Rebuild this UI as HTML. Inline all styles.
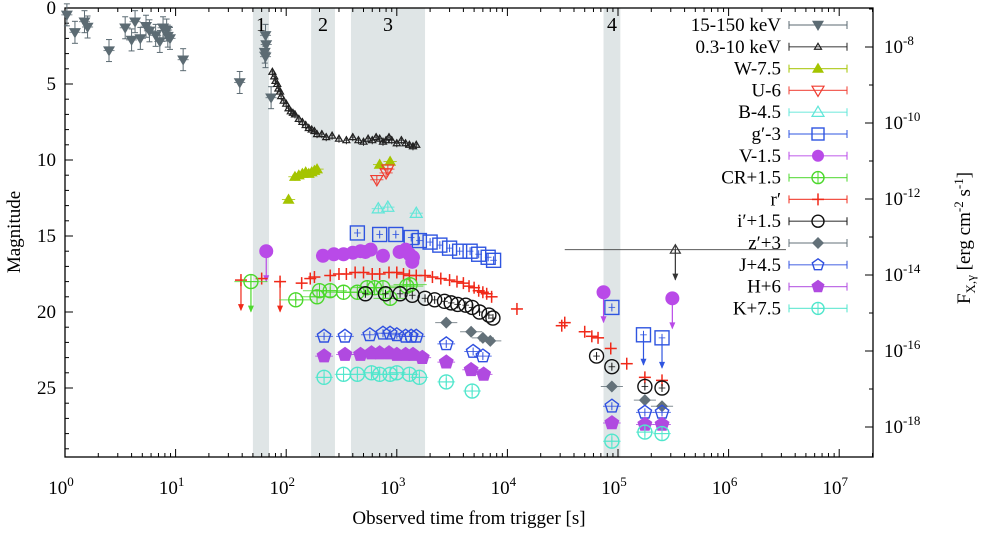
<!DOCTYPE html>
<html><head><meta charset="utf-8"><style>
html,body{margin:0;padding:0;background:#fff;}
svg{display:block;font-family:"Liberation Serif",serif;}
</style></head><body>
<svg id="chart" width="981" height="534" viewBox="0 0 981 534" xmlns="http://www.w3.org/2000/svg"></svg>
<script>
// ---------- data ----------
const bandRanges = [[50,70],[168,276],[385,1800],[74000,105000]];
const bandLabels = ["1","2","3","4"];
const xTicks = [0,1,2,3,4,5,6,7];
const yTicks = [0,5,10,15,20,25];
const fluxTicks = [-8,-10,-12,-14,-16,-18];

const batT = [1.04,1.23,1.5,1.6,2.5,3.5,4,4.3,4.8,5.4,5.8,6.6,7.2,7.7,8.3,8.5,8.9,11.7,38,65,66,64,65,73];
const batM = [0.45,1.6,0.9,1.25,2.8,1.3,2.1,0.9,2.0,1.2,1.5,1.8,2.2,1.3,1.45,1.85,2.0,3.4,4.9,1.8,2.4,2.9,3.2,5.9];
const xrtT = [75,78,80,83,85,88,90,95,100,105,110,115,120,130,140,150,160,170,180,190,210,230,260,300,350,400,450,500,550,600,650,700,750,800,850,900,1000,1100,1200,1300,1400,1500];
const xrtM = [4.2,4.5,4.8,5.0,5.3,5.5,5.8,6.1,6.3,6.6,6.8,6.9,7.0,7.3,7.5,7.7,7.9,8.0,8.1,8.3,8.3,8.5,8.4,8.6,8.7,8.5,8.7,8.8,8.6,8.7,8.5,8.6,8.8,8.7,8.5,8.7,8.9,8.7,8.9,9.0,9.1,9.0];
const wT = [105,120,130,140,150,160,170,180,190,700,870];
const wM = [12.6,11.1,11.0,10.9,10.8,10.9,10.8,10.7,10.6,10.3,10.1];
const uT = [660,800,830];
const uM = [11.3,10.85,10.6];
const bT = [680,830,1500];
const bM = [13.2,13.1,13.5];
const gT = [440,700,980,1350,1600,2000,2450,3000,3700,4600,5500,6700,7500,88000,170000,250000];
const gM = [14.8,14.9,14.9,15.1,15.3,15.4,15.6,15.8,16.0,16.0,16.2,16.4,16.6,19.7,21.5,21.7];
const gUL = [0,0,0,0,0,0,0,0,0,0,0,0,0,0,1,1];
const vT = [66,215,270,330,400,470,520,580,750,1060,1200,1300,1400,1380,74000,310000];
const vM = [16.0,16.3,16.2,16.2,16.1,16.0,16.05,15.9,16.3,16.05,15.9,16.2,16.4,16.7,18.7,19.1];
const vUL = [1,0,0,0,0,0,0,0,0,0,0,0,0,0,1,1];
const rT = [39,60,88,138,165,180,250,300,350,420,500,600,700,850,1000,1150,1300,1500,1800,2100,2500,3000,3500,4000,4500,5000,5500,6000,6500,7200,12200,31000,33000,50000,58000,66000,86000,120000,175000,250000];
const rM = [17.9,17.8,18.0,18.1,17.8,17.7,17.6,17.5,17.5,17.4,17.4,17.5,17.5,17.4,17.4,17.5,17.6,17.6,17.6,17.7,17.8,17.9,18.0,18.1,18.3,18.4,18.6,18.7,18.8,19.0,19.8,20.9,20.7,21.3,21.6,21.7,22.4,23.4,24.3,24.5];
const rUL = [1,0,1,0,0,0,0,0,0,0,0,0,0,0,0,0,0,0,0,0,0,0,0,0,0,0,0,0,0,0,0,0,0,0,0,0,0,0,0,0];
const crT = [48,122,190,200,250,330,440,540,630,750,870,1230,1320];
const crM = [18.0,19.2,19.0,18.6,18.6,18.7,18.7,18.4,18.4,18.4,19.1,18.3,18.2];
const crUL = [1,0,0,0,0,0,0,0,0,0,0,0,0];
const iT = [520,790,1070,1380,1800,2200,2700,3100,3550,4200,4800,5600,6800,7400,64000,88000,175000,250000];
const iM = [18.8,18.8,18.8,18.9,19.1,19.2,19.3,19.4,19.5,19.55,19.7,20.0,20.2,20.4,22.9,23.6,24.9,25.0];
const zT = [2800,4700,6000,7000,88000,175000,250000];
const zM = [20.7,21.3,21.7,21.9,24.9,25.8,26.2];
const jT = [220,340,570,750,870,1000,1200,1350,1500,2800,4900,6000,88000,175000,250000];
const jM = [21.6,21.6,21.5,21.4,21.4,21.5,21.6,21.6,21.6,22.1,22.6,22.9,26.2,26.6,26.6];
const hT = [220,340,470,590,700,850,1000,1200,1400,1700,2800,4700,6100,88000,175000,250000];
const hM = [22.9,22.8,22.8,22.7,22.7,22.7,22.8,22.8,22.8,23.0,23.3,23.8,24.1,27.3,27.4,27.4];
const kT = [220,330,440,590,700,870,1000,1300,1600,2800,4800,88000,175000,250000];
const kM = [24.3,24.1,24.1,24.0,24.1,24.1,24.0,24.1,24.3,24.6,25.2,28.5,27.9,28.0];
const xrtUlT = [330000];
const xrtUlM = [15.9];

// ---------- axes ----------
const X0=65, X1=873, Y0=8, Y1=457, DEC=110.6, MAG=15.2;
const sx = t => X0 + Math.log10(t)*DEC;
const sy = m => Y0 + m*MAG;
const fy = lf => 47 + (-8 - lf)*38;
const NS="http://www.w3.org/2000/svg";
const svg=document.getElementById('chart');
function mk(tag,attrs,parent){const e=document.createElementNS(NS,tag);for(const k in attrs)e.setAttribute(k,attrs[k]);(parent||svg).appendChild(e);return e;}

bandRanges.forEach((b,i)=>{
  const r=mk('rect',{x:sx(b[0]),y:Y0,width:sx(b[1])-sx(b[0]),height:Y1-Y0,fill:'#dfe5e6'});
  
  
  const t=mk('text',{x:(sx(b[0])+sx(b[1]))/2,y:31,'font-size':20,'text-anchor':'middle',fill:'#000'});
  t.textContent=bandLabels[i];
  
  
});

const fr=mk('rect',{x:X0,y:Y0,width:X1-X0,height:Y1-Y0,fill:'none',stroke:'#000','stroke-width':1.3});



const gx=mk('g',{});


for(let d=0; d<=7; d++){
  for(let k=1;k<10;k++){
    const x=sx(Math.pow(10,d)*k); if(x>X1) break;
    const len=k==1?8:4;
    mk('line',{x1:x,x2:x,y1:Y1,y2:Y1-len,stroke:'#000'},gx);
    mk('line',{x1:x,x2:x,y1:Y0,y2:Y0+len,stroke:'#000'},gx);
  }
}
xTicks.forEach(d=>{
  const t=mk('text',{x:sx(Math.pow(10,d))-4,y:494,'font-size':19,'text-anchor':'middle'},gx);
  t.innerHTML='10<tspan dy="-8" font-size="13">'+d+'</tspan>';
  
  
});
const gy=mk('g',{});


for(let m=0;m<=29;m++){
  const y=sy(m); const len=m%5==0?8:4;
  mk('line',{x1:X0,x2:X0+len,y1:y,y2:y,stroke:'#000'},gy);
}
yTicks.forEach(m=>{
  const t=mk('text',{x:56,y:sy(m)+6,'font-size':19,'text-anchor':'end'},gy);
  t.textContent=m;
  
  
});
const gr=mk('g',{});


for(let lf=-7;lf>=-19;lf--){
  const y=fy(lf); if(y<Y0||y>Y1) continue;
  mk('line',{x1:X1,x2:X1-(lf%2==0?8:4),y1:y,y2:y,stroke:'#000'},gr);
}
fluxTicks.forEach(lf=>{
  const t=mk('text',{x:884,y:fy(lf)+6,'font-size':19},gr);
  t.innerHTML='10<tspan dy="-8" font-size="13">'+lf+'</tspan>';
  
  
});
const xt=mk('text',{x:469,y:524,'font-size':19,'text-anchor':'middle'});
xt.textContent='Observed time from trigger [s]';


const yt=mk('text',{x:0,y:0,'font-size':19,'text-anchor':'middle',transform:'translate(20,232) rotate(-90)'});
yt.textContent='Magnitude';


const rt=mk('text',{x:0,y:0,'font-size':19,'text-anchor':'middle',transform:'translate(970,238) rotate(-90)'});
rt.innerHTML='F<tspan dy="5" font-size="13">X,γ</tspan><tspan dy="-5"> [erg cm</tspan><tspan dy="-7" font-size="13">-2</tspan><tspan dy="7"> s</tspan><tspan dy="-7" font-size="13">-1</tspan><tspan dy="7">]</tspan>';



function marker(g,type,x,y,col,s){
  s=s||6;
  switch(type){
    case 'tdF': mk('polygon',{points:`${x-s},${y-s*0.7} ${x+s},${y-s*0.7} ${x},${y+s}`,fill:col},g);break;
    case 'tuO': mk('polygon',{points:`${x-s},${y+s*0.7} ${x+s},${y+s*0.7} ${x},${y-s}`,fill:'none',stroke:col,'stroke-width':1.2},g);break;
    case 'tuF': mk('polygon',{points:`${x-s},${y+s*0.7} ${x+s},${y+s*0.7} ${x},${y-s}`,fill:col},g);break;
    case 'tdO': mk('polygon',{points:`${x-s},${y-s*0.7} ${x+s},${y-s*0.7} ${x},${y+s}`,fill:'none',stroke:col,'stroke-width':1.2},g);break;
    case 'sqO': mk('rect',{x:x-s,y:y-s,width:2*s,height:2*s,fill:'none',stroke:col,'stroke-width':1.4},g);break;
    case 'ciF': mk('circle',{cx:x,cy:y,r:s,fill:col},g);break;
    case 'ciO': mk('circle',{cx:x,cy:y,r:s,fill:'none',stroke:col,'stroke-width':1.4},g);break;
    case 'ciX': mk('circle',{cx:x,cy:y,r:s,fill:'none',stroke:col,'stroke-width':1.4},g);
                mk('line',{x1:x-s,x2:x+s,y1:y,y2:y,stroke:col},g);mk('line',{x1:x,x2:x,y1:y-s,y2:y+s,stroke:col},g);break;
    case 'plus': mk('line',{x1:x-s,x2:x+s,y1:y,y2:y,stroke:col,'stroke-width':1.5},g);mk('line',{x1:x,x2:x,y1:y-s,y2:y+s,stroke:col,'stroke-width':1.5},g);break;
    case 'diF': mk('polygon',{points:`${x-s},${y} ${x},${y-s} ${x+s},${y} ${x},${y+s}`,fill:col},g);break;
    case 'pnO': case 'pnF': {
      let p=[];for(let i=0;i<5;i++){const a=-Math.PI/2+i*2*Math.PI/5;p.push((x+s*Math.cos(a)).toFixed(1)+','+(y+s*Math.sin(a)).toFixed(1));}
      mk('polygon',{points:p.join(' '),fill:type=='pnF'?col:'none',stroke:col,'stroke-width':1.4},g);break;}
  }
}
function arrow(g,x,y,col){
  mk('line',{x1:x,x2:x,y1:y,y2:y+30,stroke:col,'stroke-width':1.2},g);
  mk('polygon',{points:`${x-3},${y+24} ${x+3},${y+24} ${x},${y+31}`,fill:col},g);
}
function series(name,T,M,type,col,s,UL,xerr,yerr){
  const g=mk('g',{});
  
  
  const ye=yerr||4;
  T.forEach((t,i)=>{
    const x=sx(t), y=sy(M[i]);
    const e=xerr||0.06;
    mk('line',{x1:sx(t/Math.pow(10,e)),x2:sx(t*Math.pow(10,e)),y1:y,y2:y,stroke:col,'stroke-width':1,opacity:0.8},g);
    mk('line',{x1:x,x2:x,y1:y-ye,y2:y+ye,stroke:col,'stroke-width':1},g);
    if(ye>5){mk('line',{x1:x-3,x2:x+3,y1:y-ye,y2:y-ye,stroke:col},g);mk('line',{x1:x-3,x2:x+3,y1:y+ye,y2:y+ye,stroke:col},g);}
    marker(g,type,x,y,col,s);
    if(UL&&UL[i]) arrow(g,x,y,col);
  });
  return g;
}
series('series-15-150kev',batT,batM,'tdF','#5c6b73',6,null,0.05,11);
series('series-0.3-10kev',xrtT,xrtM,'tuO','#222',3.5,null,0.02);
series('series-xrt-upper-limit',xrtUlT,xrtUlM,'tuO','#333',5,[1],1.0);
series('series-w',wT,wM,'tuF','#a4c400',6);
series('series-u',uT,uM,'tdO','#f03c30',6);
series('series-b',bT,bM,'tuO','#5fe6d8',6);
series('series-g',gT,gM,'sqO','#2f55e0',7,gUL,0.03);
series('series-v',vT,vM,'ciF','#b94ae8',7,vUL,0.02);
series('series-r',rT,rM,'plus','#f02818',6,rUL,0.05);
series('series-cr',crT,crM,'ciX','#4cd82c',7,crUL,0.15);
series('series-i',iT,iM,'ciO','#111',7,null,0.03);
series('series-z',zT,zM,'diF','#637179',6,null,0.1);
series('series-j',jT,jM,'pnO','#3050e0',7,null,0.08);
series('series-h',hT,hM,'pnF','#b04ae0',7,null,0.08);
series('series-k',kT,kM,'ciX','#50e6cc',7,null,0.08);

const legNames=['15-150 keV','0.3-10 keV','W-7.5','U-6','B-4.5','g′-3','V-1.5','CR+1.5','r′','i′+1.5','z′+3','J+4.5','H+6','K+7.5'];
const legTypes=['tdF','tuO','tuF','tdO','tuO','sqO','ciF','ciX','plus','ciO','diF','pnO','pnF','ciX'];
const legCols=['#5c6b73','#222','#a4c400','#f03c30','#5fe6d8','#2f55e0','#b94ae8','#4cd82c','#f02818','#111','#637179','#3050e0','#b04ae0','#50e6cc'];
const lg=mk('g',{});


legNames.forEach((n,i)=>{
  const y=25+i*21.8;
  const g=mk('g',{},lg);
  
  
  const t=mk('text',{x:781,y:y+6,'font-size':19,'text-anchor':'end'},g);
  t.textContent=n;
  mk('line',{x1:789,x2:847,y1:y,y2:y,stroke:legCols[i],'stroke-width':1.2,opacity:0.8},g);
  mk('line',{x1:789,x2:789,y1:y-4,y2:y+4,stroke:legCols[i]},g);
  mk('line',{x1:847,x2:847,y1:y-4,y2:y+4,stroke:legCols[i]},g);
  marker(g,legTypes[i],818,y,legCols[i],legTypes[i]=='tuO'&&i==1?3.5:6);
});
</script>
</body></html>
